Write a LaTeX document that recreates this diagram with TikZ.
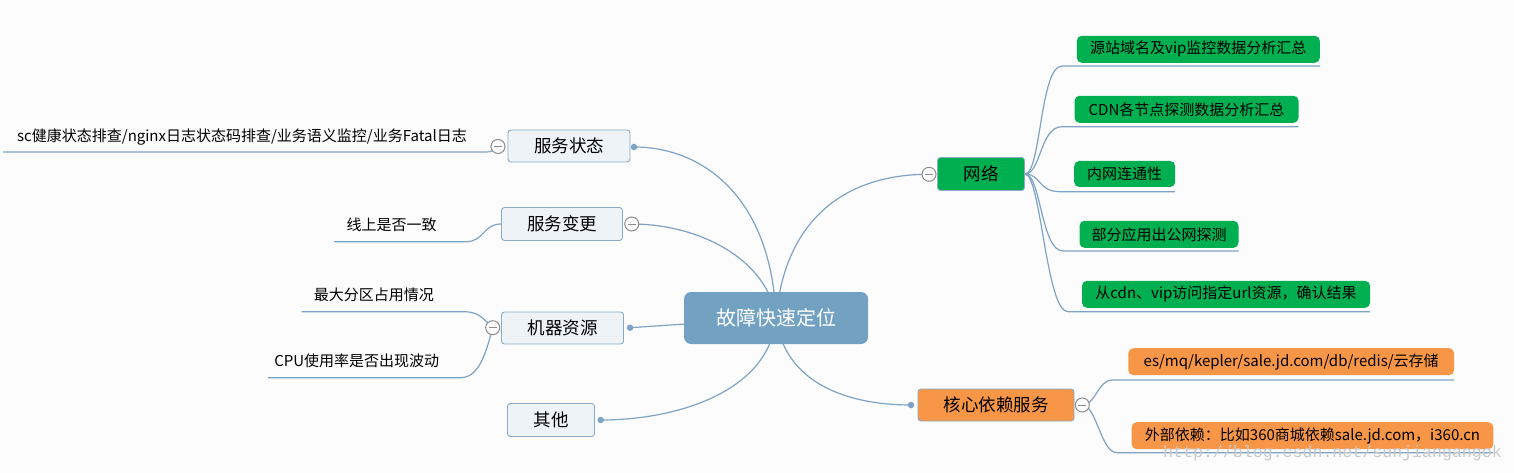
\documentclass[tikz,border=0pt]{standalone}
\usepackage{fontspec}
\setmainfont{Noto Sans CJK SC}
\newfontfamily\wmfont{Liberation Mono}
\pgfdeclarelayer{background}
\pgfsetlayers{background,main}
\definecolor{linec}{HTML}{7EA3C4}
\definecolor{rootc}{HTML}{73A1C2}
\definecolor{bfill}{HTML}{EEF3F8}
\definecolor{bbord}{HTML}{8AAAC6}
\definecolor{gfill}{HTML}{00B050}
\definecolor{ofill}{HTML}{F79646}
\definecolor{cgray}{HTML}{8C8C8C}
\definecolor{bgc}{HTML}{FCFCFC}
\definecolor{wmc}{HTML}{C9C9C9}
\begin{document}
\begin{tikzpicture}[x=1pt,y=-1pt,
  rootbox/.style={fill=rootc, rounded corners=7pt, minimum width=184pt, minimum height=52pt, inner sep=0pt, text=white, font=\fontsize{20}{24}\selectfont},
  branch/.style={draw=bbord, fill=bfill, rounded corners=3pt, line width=0.9pt, minimum height=32pt, inner sep=0pt, font=\fontsize{17.5}{20}\selectfont},
  gleaf/.style={fill=gfill, rounded corners=5pt, minimum height=27pt, inner sep=0pt, font=\fontsize{15}{18}\selectfont},
  oleaf/.style={fill=ofill, rounded corners=5pt, minimum height=27pt, inner sep=0pt, font=\fontsize{15}{18}\selectfont},
  ltext/.style={inner sep=0pt, font=\fontsize{15}{18}\selectfont},
  conn/.style={draw=linec, line width=1.2pt},
  colbtn/.style={circle, draw=cgray, fill=white, line width=1pt, minimum size=14pt, inner sep=0pt,
    path picture={\draw[cgray, line width=1pt] ([xshift=-4pt]path picture bounding box.center) -- ([xshift=4pt]path picture bounding box.center);}},
  dotn/.style={circle, fill=linec, minimum size=6.5pt, inner sep=0pt},
  wm/.style={inner sep=0pt, text=wmc, font=\wmfont\fontsize{16.6}{18}\selectfont}
]
\useasboundingbox (0,0) rectangle (1514,473);

% central
\node[rootbox] (root) at (776,318) {故障快速定位};

% left branches
\node[branch, minimum width=122pt] (s1) at (569,146) {服务状态};
\node[colbtn] (s1c) at (498,146.5) {};
\node[dotn] (s1d) at (634,147) {};

\node[branch, minimum width=121pt, minimum height=33pt] (s2) at (562,224) {服务变更};
\node[colbtn] (s2c) at (631.7,224) {};

\node[branch, minimum width=122pt] (s3) at (562.5,328) {机器资源};
\node[colbtn] (s3c) at (492.7,327.7) {};
\node[dotn] (s3d) at (630,327.7) {};

\node[branch, minimum width=87pt, minimum height=33pt] (s4) at (551,420) {其他};
\node[dotn] (s4d) at (600.7,420) {};

% left leaves
\node[ltext] (l1) at (242,137) {sc健康状态排查/nginx日志状态码排查/业务语义监控/业务Fatal日志};
\node[ltext] (l2) at (391.7,225) {线上是否一致};
\node[ltext] (l3) at (373.8,295) {最大分区占用情况};
\node[ltext] (l4) at (356.7,361) {CPU使用率是否出现波动};

\coordinate (u1s) at (3,152);
\coordinate (u1e) at (485,152);
\coordinate (u2s) at (334,241.7);
\coordinate (u2e) at (466,241.7);
\coordinate (u3s) at (301.7,311.7);
\coordinate (u3e) at (463,311.7);
\coordinate (u4s) at (268,377.7);
\coordinate (u4e) at (460,377.7);

% right branches
\node[branch, fill=gfill, minimum width=87pt, minimum height=33pt] (net) at (981,174) {网络};
\node[colbtn] (netc) at (929,174.3) {};

\node[branch, fill=ofill, minimum width=156pt] (core) at (996,405) {核心依赖服务};
\node[dotn] (cored) at (911,405) {};
\node[colbtn] (corec) at (1082.3,405) {};

% green leaves
\node[gleaf, minimum width=243pt] (g1) at (1198.3,49.3) {源站域名及vip监控数据分析汇总};
\node[gleaf, minimum width=224pt] (g2) at (1186.5,109.3) {CDN各节点探测数据分析汇总};
\node[gleaf, minimum width=101pt, minimum height=26pt] (g3) at (1124.7,174) {内网连通性};
\node[gleaf, minimum width=159pt] (g4) at (1159,234.3) {部分应用出公网探测};
\node[gleaf, minimum width=288pt] (g5) at (1226,294.3) {从cdn、vip访问指定url资源，确认结果};

\coordinate (g1s) at (1062,66);    \coordinate (g1e) at (1320,66);
\coordinate (g2s) at (1062,126.7); \coordinate (g2e) at (1298.7,126.7);
\coordinate (g3s) at (1060,191.7); \coordinate (g3e) at (1175,191.7);
\coordinate (g4s) at (1063,251);   \coordinate (g4e) at (1238.7,251);
\coordinate (g5s) at (1068,311.7); \coordinate (g5e) at (1370,311.7);

% orange leaves
\node[oleaf, minimum width=325.7pt] (o1) at (1291.2,361.7) {es/mq/kepler/sale.jd.com/db/redis/云存储};
\node[oleaf, minimum width=361.6pt] (o2) at (1312.5,435.7) {外部依赖：比如360商城依赖sale.jd.com，i360.cn};

\coordinate (o1s) at (1113,380);   \coordinate (o1e) at (1454,380);
\coordinate (o2s) at (1117,452.7); \coordinate (o2e) at (1493,452.7);

\begin{pgfonlayer}{background}
\fill[bgc] (0,0) rectangle (1514,473);
% central connectors
\draw[conn] (root.center) .. controls (772,200) and (705,147) .. (s1d.center);
\draw[conn] (root.center) .. controls (768,260) and (700,224) .. (s2c.center);
\draw[conn] (root.center) -- (s3d.center);
\draw[conn] (root.center) .. controls (770,390) and (680,420) .. (s4d.center);
\draw[conn] (root.center) .. controls (785,215) and (850,174) .. (netc.center);
\draw[conn] (root.center) .. controls (785,385) and (850,405) .. (cored.center);
% left leaf connectors
\draw[conn] (s1c.center) .. controls +(-6,5) and +(6,0) .. (u1e) -- (u1s);
\draw[conn] (s2.west) .. controls +(-18,0) and +(18,0) .. (u2e) -- (u2s);
\draw[conn] (s3c.center) .. controls +(-12,-12) and +(14,0) .. (u3e) -- (u3s);
\draw[conn] (s3c.center) .. controls +(-8,30) and +(18,0) .. (u4e) -- (u4s);
% right leaf connectors
\draw[conn] (net.east) .. controls +(16,0) and +(-22,0) .. (g1s) -- (g1e);
\draw[conn] (net.east) .. controls +(16,0) and +(-22,0) .. (g2s) -- (g2e);
\draw[conn] (net.east) .. controls +(16,0) and +(-22,0) .. (g3s) -- (g3e);
\draw[conn] (net.east) .. controls +(16,0) and +(-22,0) .. (g4s) -- (g4e);
\draw[conn] (net.east) .. controls +(16,0) and +(-22,0) .. (g5s) -- (g5e);
\draw[conn] (corec.center) .. controls +(14,0) and +(-16,0) .. (o1s) -- (o1e);
\draw[conn] (corec.center) .. controls +(14,0) and +(-16,0) .. (o2s) -- (o2e);
\end{pgfonlayer}

\node[wm] (wmark) at (1332.5,453) {http://blog.csdn.net/sunjiangangok};
\end{tikzpicture}
\end{document}
